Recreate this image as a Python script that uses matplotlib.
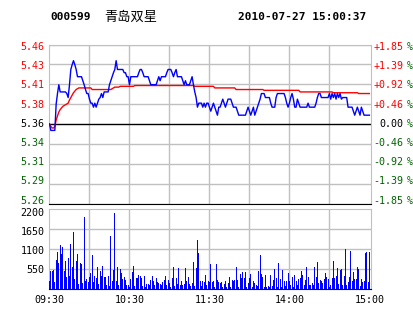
import numpy as np
import matplotlib
matplotlib.use('Agg')
import matplotlib.pyplot as plt

plt.rcParams['font.family'] = ['DejaVu Sans Mono']

# header
code = '000599'
name = '青岛双星'
stamp = '2010-07-27 15:00:37'

prev_close = 5.36
pct_levels = [1.85, 1.39, 0.92, 0.46, 0.0, -0.46, -0.92, -1.39, -1.85]
price_labels = ['5.46', '5.43', '5.41', '5.38', '5.36', '5.34', '5.31', '5.29', '5.26']
pct_labels = ['+1.85', '+1.39', '+0.92', '+0.46', '0.00', '-0.46', '-0.92', '-1.39', '-1.85']
vol_ticks = [2200, 1650, 1100, 550]
time_ticks = [0, 60, 120, 180, 240]
time_labels = ['09:30', '10:30', '11:30', '14:00', '15:00']

# minute price (blue), one value per minute 09:30..11:30, 13:01..15:00
price = [
    5.360, 5.352, 5.352, 5.352, 5.352, 5.385, 5.398, 5.409, 5.400, 5.400,
    5.400, 5.400, 5.400, 5.398, 5.393, 5.409, 5.428, 5.434, 5.439, 5.434,
    5.428, 5.419, 5.419, 5.419, 5.419, 5.414, 5.409, 5.403, 5.398, 5.398,
    5.391, 5.386, 5.386, 5.381, 5.386, 5.381, 5.386, 5.391, 5.393, 5.398,
    5.393, 5.400, 5.400, 5.400, 5.400, 5.409, 5.414, 5.419, 5.424, 5.428,
    5.439, 5.428, 5.428, 5.428, 5.428, 5.428, 5.424, 5.424, 5.419, 5.419,
    5.409, 5.419, 5.419, 5.419, 5.419, 5.419, 5.419, 5.424, 5.428, 5.428,
    5.424, 5.419, 5.419, 5.419, 5.419, 5.414, 5.409, 5.409, 5.409, 5.409,
    5.409, 5.414, 5.419, 5.414, 5.419, 5.419, 5.419, 5.419, 5.424, 5.428,
    5.428, 5.428, 5.424, 5.419, 5.424, 5.428, 5.419, 5.419, 5.419, 5.419,
    5.414, 5.409, 5.414, 5.409, 5.409, 5.409, 5.414, 5.419, 5.409, 5.400,
    5.393, 5.381, 5.386, 5.386, 5.386, 5.381, 5.386, 5.381, 5.386, 5.386,
    5.381, 5.376, 5.381, 5.386, 5.381, 5.376, 5.371, 5.381, 5.381, 5.386,
    5.391, 5.386, 5.381, 5.386, 5.391, 5.391, 5.391, 5.386, 5.381, 5.381,
    5.381, 5.376, 5.371, 5.371, 5.371, 5.371, 5.371, 5.371, 5.376, 5.381,
    5.376, 5.371, 5.376, 5.381, 5.371, 5.376, 5.381, 5.386, 5.391, 5.398,
    5.398, 5.398, 5.393, 5.393, 5.393, 5.393, 5.386, 5.381, 5.381, 5.381,
    5.393, 5.398, 5.398, 5.398, 5.398, 5.398, 5.398, 5.393, 5.386, 5.381,
    5.386, 5.393, 5.398, 5.391, 5.381, 5.381, 5.391, 5.386, 5.381, 5.381,
    5.381, 5.381, 5.381, 5.381, 5.386, 5.381, 5.381, 5.381, 5.381, 5.381,
    5.386, 5.393, 5.398, 5.398, 5.393, 5.393, 5.393, 5.393, 5.393, 5.393,
    5.398, 5.391, 5.398, 5.393, 5.398, 5.391, 5.398, 5.393, 5.398, 5.391,
    5.393, 5.393, 5.393, 5.393, 5.381, 5.381, 5.381, 5.381, 5.376, 5.371,
    5.376, 5.381, 5.376, 5.371, 5.381, 5.376, 5.371, 5.371, 5.371, 5.371,
    5.371,
]

# running average price (red)
avg_price = [
    5.360, 5.357, 5.355, 5.355, 5.357, 5.365, 5.370, 5.375, 5.378, 5.380,
    5.382, 5.383, 5.384, 5.385, 5.386, 5.390, 5.393, 5.396, 5.399, 5.401,
    5.403, 5.404, 5.405, 5.405, 5.405, 5.405, 5.405, 5.405, 5.405, 5.405,
    5.405, 5.405, 5.403, 5.403, 5.403, 5.403, 5.403, 5.403, 5.403, 5.403,
    5.403, 5.403, 5.403, 5.403, 5.403, 5.403, 5.403, 5.404, 5.405, 5.406,
    5.406, 5.406, 5.406, 5.407, 5.407, 5.407, 5.407, 5.407, 5.407, 5.407,
    5.407, 5.407, 5.407, 5.407, 5.408, 5.408, 5.408, 5.408, 5.408, 5.408,
    5.408, 5.408, 5.408, 5.408, 5.408, 5.408, 5.408, 5.408, 5.408, 5.408,
    5.408, 5.408, 5.408, 5.408, 5.408, 5.408, 5.408, 5.408, 5.408, 5.408,
    5.408, 5.408, 5.408, 5.408, 5.408, 5.408, 5.408, 5.408, 5.408, 5.408,
    5.408, 5.408, 5.408, 5.408, 5.408, 5.408, 5.408, 5.408, 5.408, 5.407,
    5.407, 5.407, 5.407, 5.407, 5.407, 5.407, 5.407, 5.407, 5.407, 5.407,
    5.407, 5.407, 5.407, 5.407, 5.405, 5.405, 5.405, 5.405, 5.405, 5.405,
    5.405, 5.405, 5.405, 5.405, 5.405, 5.405, 5.405, 5.405, 5.405, 5.405,
    5.403, 5.403, 5.403, 5.403, 5.403, 5.403, 5.403, 5.403, 5.403, 5.403,
    5.403, 5.403, 5.403, 5.403, 5.403, 5.403, 5.403, 5.403, 5.403, 5.403,
    5.403, 5.402, 5.402, 5.402, 5.402, 5.402, 5.402, 5.402, 5.402, 5.402,
    5.402, 5.402, 5.402, 5.402, 5.402, 5.402, 5.402, 5.402, 5.402, 5.402,
    5.402, 5.402, 5.402, 5.402, 5.402, 5.402, 5.402, 5.402, 5.400, 5.400,
    5.400, 5.400, 5.400, 5.400, 5.400, 5.400, 5.400, 5.400, 5.400, 5.400,
    5.400, 5.400, 5.400, 5.400, 5.400, 5.400, 5.400, 5.400, 5.400, 5.400,
    5.400, 5.400, 5.400, 5.399, 5.399, 5.399, 5.399, 5.399, 5.399, 5.399,
    5.399, 5.399, 5.399, 5.399, 5.399, 5.399, 5.399, 5.399, 5.399, 5.399,
    5.399, 5.399, 5.398, 5.398, 5.398, 5.398, 5.398, 5.398, 5.398, 5.398,
    5.398,
]

# volume per minute
volume = [
    195, 473, 473, 510, 167, 789, 1002, 696, 1197, 956,
    1141, 473, 752, 306, 844, 353, 1234, 585, 1559, 260,
    752, 956, 121, 696, 677, 139, 1977, 195, 260, 167,
    306, 418, 928, 167, 353, 278, 585, 121, 473, 353,
    631, 325, 306, 102, 334, 74, 1448, 195, 510, 2088,
    195, 585, 102, 538, 427, 260, 306, 232, 93, 93,
    28, 260, 445, 631, 56, 288, 288, 371, 343, 288,
    74, 353, 46, 121, 121, 93, 232, 334, 195, 93,
    278, 167, 139, 121, 102, 167, 232, 334, 93, 232,
    139, 46, 278, 585, 74, 278, 121, 557, 93, 195,
    102, 121, 557, 213, 306, 121, 56, 139, 724, 74,
    557, 1346, 974, 195, 74, 195, 167, 380, 102, 195,
    167,
    677, 167, 195, 46, 677, 232, 167, 139, 167, 46,
    121, 195, 46, 139, 306, 46, 232, 195, 232, 585,
    232, 46, 399, 278, 445, 278, 445, 46, 139, 288,
    399, 46, 195, 139, 102, 74, 473, 928, 399, 306,
    46, 380, 46, 74, 46, 380, 74, 232, 538, 288,
    46, 696, 260, 46, 510, 195, 74, 195, 418, 195,
    102, 306, 46, 380, 213, 102, 260, 288, 492, 380,
    102, 232, 585, 306, 102, 102, 139, 93, 603, 306,
    724, 139, 232, 195, 139, 260, 418, 306, 260, 46,
    102, 288, 752, 288, 353, 557, 121, 510, 538, 102,
    353, 1095, 102, 167, 306, 1030, 195, 445, 260, 260,
    603, 538, 74, 260, 167, 195, 974, 1021, 167, 1002,
]

minutes = np.arange(len(price))
W, H = 414, 314
RED = '#ff0000'
GREEN = '#006400'
BLUE = '#0000ff'
GRID = '#c0c0c0'
FS = 7.2


def box(l, t, r, b):
    return [l / W, 1 - b / H, (r - l) / W, (b - t) / H]


def fx(x):
    return x / W


def fy(y):
    return 1 - y / H


fig = plt.figure(figsize=(W / 100, H / 100), dpi=100)
ax = fig.add_axes(box(49.5, 44.5, 371.5, 203.5))
axv = fig.add_axes(box(49.5, 209, 371.5, 288.5))

levels = [prev_close * (1 + p / 100) for p in pct_levels]

# price panel
ax.set_xlim(0, 241.6)
ax.set_ylim(prev_close * (1 - 0.0185), prev_close * (1 + 0.0185))
for lv, p in zip(levels, pct_levels):
    if p == 0:
        ax.axhline(lv, color='black', lw=1.0, zorder=1)
    else:
        ax.axhline(lv, color=GRID, lw=1.0, zorder=0)
for m in range(30, 240, 30):
    ax.axvline(m, color=GRID, lw=1.0, zorder=0)
ax.plot(minutes, avg_price, color=RED, lw=1.0, zorder=3)
ax.plot(minutes, price, color=BLUE, lw=1.0, zorder=4)
ax.set_xticks([])
ax.set_yticks([])
for s in ['left', 'top', 'right']:
    ax.spines[s].set_color(GRID)
ax.spines['bottom'].set_color('black')

# side labels of the price panel (spread a bit tighter than the grid)
n = len(pct_levels)
for i, (pl, p, txt) in enumerate(zip(price_labels, pct_levels, pct_labels)):
    y = 47 + i * (200.5 - 47) / (n - 1)
    c = RED if p > 0 else ('black' if p == 0 else GREEN)
    fig.text(fx(44.5), fy(y), pl, ha='right', va='center', fontsize=FS, color=c)
    fig.text(fx(403.5), fy(y), txt, ha='right', va='center', fontsize=FS, color=c)
    fig.text(fx(407), fy(y), '%', ha='left', va='center', fontsize=FS, color=GREEN)

# volume panel
axv.set_xlim(0, 241.6)
axv.set_ylim(0, 2200)
for v in vol_ticks[1:]:
    axv.axhline(v, color=GRID, lw=1.0, zorder=0)
for m in range(30, 240, 30):
    axv.axvline(m, color=GRID, lw=1.0, zorder=0)
axv.bar(minutes, volume, width=0.75, color=BLUE, linewidth=0,
        antialiased=False, zorder=3)
axv.set_yticks([])
axv.set_xticks(time_ticks)
axv.set_xticklabels(time_labels)
axv.tick_params(length=0, labelsize=FS, pad=5)
for s in ['left', 'top', 'right']:
    axv.spines[s].set_color(GRID)
axv.spines['bottom'].set_color('black')

for v, y in zip(vol_ticks, [213, 232, 251, 270]):
    fig.text(fx(44.5), fy(y), str(v), ha='right', va='center', fontsize=FS)

# header
fig.text(fx(50), fy(17), code, fontsize=8, fontweight='bold', va='center')
fig.text(fx(104), fy(17), name, fontsize=9.5, va='center',
         family=['Noto Sans CJK SC', 'DejaVu Sans'])
fig.text(fx(238), fy(17), stamp, fontsize=8, fontweight='bold', va='center')

fig.savefig('out.png', dpi=100)
